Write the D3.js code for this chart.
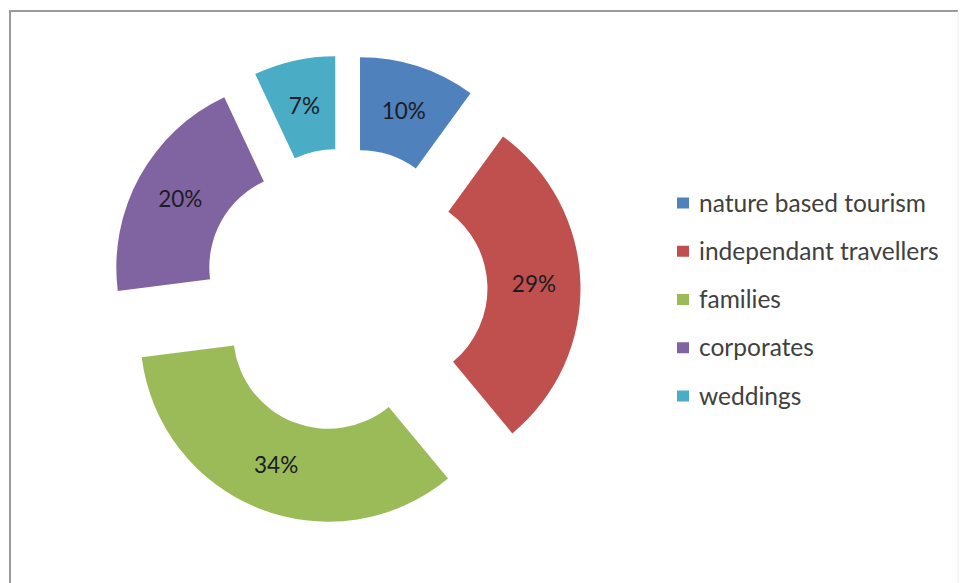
<!DOCTYPE html>
<html>
<head>
<meta charset="utf-8">
<script src="https://cdn.jsdelivr.net/npm/d3@7"></script>
<style>
  html, body { margin: 0; padding: 0; background: #fff; }
  svg { display: block; }
</style>
</head>
<body>
<svg id="chart" width="960" height="583"></svg>
<script>
// Visitor segments and their shares (%)
const categories = ["nature based tourism", "independant travellers", "families", "corporates", "weddings"];
const shares = [10, 29, 34, 20, 7];
const palette = ["#4F81BD", "#C0504D", "#9BBB59", "#8064A2", "#4BACC6"];

const svg = d3.select("#chart");
const W = 960, H = 583;

// chart-area frame (open at the bottom, faint on the right)
svg.append("line").attr("x1", 10).attr("y1", 11).attr("x2", 10).attr("y2", H)
  .attr("stroke", "#9a9a9a").attr("stroke-width", 2);
svg.append("line").attr("x1", 9).attr("y1", 11).attr("x2", 958).attr("y2", 11)
  .attr("stroke", "#9a9a9a").attr("stroke-width", 2);
svg.append("line").attr("x1", 958).attr("y1", 11).attr("x2", 958).attr("y2", H)
  .attr("stroke", "#ececec").attr("stroke-width", 1);

// exploded doughnut
const cx = 345.5, cy = 290;
const outerR = 188, innerR = 95, explode = 47;

const color = d3.scaleOrdinal().domain(categories).range(palette);
const pie = d3.pie().sort(null).value(d => d.value);
const arc = d3.arc().innerRadius(innerR).outerRadius(outerR);

const data = categories.map((c, i) => ({ name: c, value: shares[i] }));
const arcs = pie(data);

const g = svg.append("g").attr("transform", `translate(${cx},${cy})`);

const slice = g.selectAll("g.slice").data(arcs).join("g")
  .attr("class", "slice")
  .attr("transform", d => {
    const a = (d.startAngle + d.endAngle) / 2;
    return `translate(${explode * Math.sin(a)},${-explode * Math.cos(a)})`;
  });

slice.append("path")
  .attr("d", arc)
  .attr("fill", d => color(d.data.name));

slice.append("text")
  .attr("transform", d => `translate(${arc.centroid(d)})`)
  .attr("text-anchor", "middle")
  .attr("dy", "0.35em")
  .attr("font-family", "Lato, 'Open Sans', sans-serif")
  .attr("font-size", 22.5)
  .attr("fill", "#1c1c24")
  .text(d => d.data.value + "%");

// legend
const legend = svg.append("g").attr("transform", "translate(677,0)");
const rowY = d3.scalePoint().domain(categories).range([203, 396]);

const item = legend.selectAll("g.item").data(categories).join("g")
  .attr("class", "item")
  .attr("transform", d => `translate(0,${rowY(d)})`);

item.append("rect")
  .attr("x", 0).attr("y", -5.5)
  .attr("width", 12).attr("height", 11)
  .attr("fill", d => color(d));

item.append("text")
  .attr("x", 22).attr("dy", "0.35em")
  .attr("font-family", "Lato, 'Open Sans', sans-serif")
  .attr("font-size", 24.5)
  .attr("fill", "#404040")
  .text(d => d);
</script>
</body>
</html>
